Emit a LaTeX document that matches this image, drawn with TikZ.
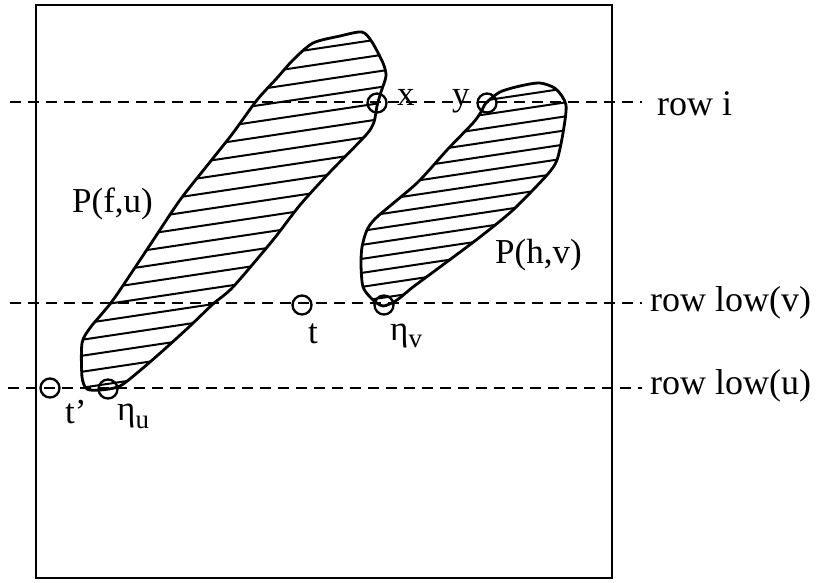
\documentclass[tikz,border=0pt]{standalone}
\usepackage{fontspec}
\setmainfont{Liberation Serif}
\newcommand\fushape{plot[smooth cycle,tension=0.45] coordinates {(313,43) (340,36) (362,32) (372,42) (383,63) (386,76) (381,92) (377,106) (374,122) (366,135) (330,172) (300,205) (273,240) (233,287) (213,304) (190,326) (167,347) (143,368) (120,386) (100,390) (87,389) (82,377) (82,343) (90,328) (100,316) (110,304) (120,290) (150,245) (180,200) (210,162) (233,133) (257,100) (277,78) (293,60)}}
\newcommand\hvshape{plot[smooth cycle,tension=0.45] coordinates {(486,103) (500,92) (520,86) (540,83) (556,89) (566,105) (563,133) (557,160) (547,175) (513,210) (480,237) (440,267) (413,287) (397,300) (383,306) (372,299) (363,287) (361,265) (362,247) (367,230) (377,217) (417,183) (447,150) (473,123) (481,112)}}
\tikzset{
  frame/.style={line width=2.8pt},
  rowline/.style={line width=2.5pt, dash pattern=on 11pt off 7pt},
  outline/.style={line width=2.8pt, line join=round},
  hatchline/.style={line width=2pt},
  pt/.style={circle, draw, line width=2.3pt, minimum size=19pt, inner sep=0pt},
  lab/.style={anchor=base west, inner sep=0pt, font=\fontsize{35}{37}\selectfont},
  rowlab/.style={anchor=base west, inner sep=0pt, font=\fontsize{36}{38}\selectfont},
}
\begin{document}
\begin{tikzpicture}[x=1pt,y=-1pt]
\useasboundingbox (0,0) rectangle (822,582);
% frame
\draw[frame] (36,5) rectangle (612,578);
% hatched regions
\begin{scope}
  \clip \fushape;
  \foreach \b in {0,16,...,720} \draw[hatchline] (0,\b) -- (822,\b-123);
\end{scope}
\draw[outline] \fushape;
\begin{scope}
  \clip \hvshape;
  \foreach \b in {0,14,...,720} \draw[hatchline] (0,\b+5) -- (822,\b-118);
\end{scope}
\draw[outline] \hvshape;
% row labels
\node[rowlab] (rowi) at (657,115) {row i};
\node[rowlab] (rowv) at (650,311) {row low(v)};
\node[rowlab] (rowu) at (650,394) {row low(u)};
% dashed rows
\coordinate (ri0) at (10,102);
\coordinate (ri1) at (642,102);
\coordinate (rv0) at (10,303);
\coordinate (rv1) at (642,303);
\coordinate (ru0) at (8,388);
\coordinate (ru1) at (642,388);
\draw[rowline] (ri0) -- (ri1);
\draw[rowline] (rv0) -- (rv1);
\draw[rowline] (ru0) -- (ru1);
% points
\node[pt] (x) at (377,103) {};
\node[pt] (y) at (487,103) {};
\node[pt] (t) at (302,305) {};
\node[pt] (ev) at (384,305) {};
\node[pt] (tp) at (50,388) {};
\node[pt] (eu) at (108,389) {};
% labels
\node[lab] (Pfu) at (72,212) {P(f,u)};
\node[lab] (Phv) at (495,263) {P(h,v)};
\node[lab] (xl) at (397,105) {x};
\node[lab] (yl) at (452,105) {y};
\node[lab] (tl) at (308,343) {t};
\node[lab] (evl) at (390,340) {η\raisebox{-7pt}{\fontsize{27}{27}\selectfont v}};
\node[lab] (tpl) at (65,423) {t’};
\node[lab] (eul) at (117,420) {η\raisebox{-8pt}{\fontsize{27}{27}\selectfont u}};
\end{tikzpicture}
\end{document}
